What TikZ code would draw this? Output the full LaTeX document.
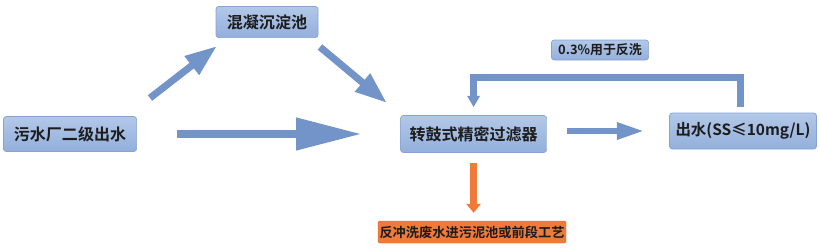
\documentclass[tikz,border=0pt]{standalone}
\usepackage{fontspec}
\newfontfamily\cjk{Noto Sans CJK SC}[BoldFont={Noto Sans CJK SC Bold}]
\usetikzlibrary{calc,arrows.meta}
\definecolor{boxtop}{HTML}{B3C8E9}
\definecolor{boxbot}{HTML}{93AFDB}
\definecolor{boxline}{HTML}{86A3D2}
\definecolor{flow}{HTML}{7294C9}
\definecolor{wash}{HTML}{F07A3A}
\definecolor{ink}{HTML}{1C1C1C}

\begin{document}
\begin{tikzpicture}[
  blkbox/.style={draw=boxline,line width=0.5pt,rounded corners=2pt,
    top color=boxtop,bottom color=boxbot,text=ink,
    font=\cjk\bfseries\fontsize{11.4}{13}\selectfont,inner sep=0pt},
  tagbox/.style={blkbox,font=\cjk\bfseries\fontsize{9.2}{11}\selectfont},
  flowarr/.style={draw=flow,line width=5pt},
  washbox/.style={fill=wash,draw=wash!85!black,line width=0.3pt,rounded corners=1pt,
    text=ink,font=\cjk\bfseries\fontsize{9.4}{11}\selectfont,inner sep=0pt}
]
\useasboundingbox (0,0) rectangle (20.5,6.25);

% ======================= the boxes =======================
\node[blkbox,minimum width=3.33cm,minimum height=0.875cm] (inflow) at (1.75,2.9) {污水厂二级出水};
\node[blkbox,minimum width=2.55cm,minimum height=0.78cm] (settle) at (6.675,5.7) {混凝沉淀池};
\node[blkbox,minimum width=3.65cm,minimum height=0.925cm] (drum) at (11.84,2.9) {转鼓式精密过滤器};
\node[blkbox,minimum width=3.675cm,minimum height=0.9cm,
  font=\cjk\bfseries\fontsize{11}{13}\selectfont] (outflow) at (18.575,2.975) {出水(SS≤10mg/L)};
\node[tagbox,minimum width=2.43cm,minimum height=0.5cm] (share) at (15.0,5.0) {0.3\%用于反洗};
\node[washbox,minimum width=4.7cm,minimum height=0.55cm] (sludge) at (11.8,0.45) {反冲洗废水进污泥池或前段工艺};

% ======================= the flows =======================
% via the settling tank
\coordinate (upfrom) at (3.75,3.8);
\coordinate (upto) at (5.425,5.1);
\coordinate (dnfrom) at (8.0,5.075);
\coordinate (dnto) at (9.675,3.675);
\draw[flowarr,-{Triangle[length=0.8cm,width=0.55cm]}] (upfrom) -- (upto);
\draw[flowarr,-{Triangle[length=0.8cm,width=0.55cm]}] (dnfrom) -- (dnto);
% straight to the filter
\draw[flowarr,-{Triangle[length=1.63cm,width=0.78cm]},shorten <=1.0cm,shorten >=0.975cm]
  (inflow.east) -- (drum.west);
% filter to outlet
\draw[flowarr,line width=4.3pt,-{Triangle[length=0.68cm,width=0.4cm]},shorten <=0.5cm,shorten >=0.625cm]
  (drum.east |- outflow) -- (outflow.west);
% back-wash share
\draw[flowarr,line width=4.5pt,-{Triangle[length=0.28cm,width=0.3cm]},shorten <=0.15cm,shorten >=0.2cm]
  ($(outflow.north)+(-0.06,0)$) -- ++(0,0.875) -| (drum.north);
% dirty wash water
\draw[draw=wash,line width=5pt,-{Triangle[length=0.22cm,width=0.35cm]},shorten <=0.25cm,shorten >=0.2cm]
  (drum.south) -- (sludge.north -| drum.south);

\end{tikzpicture}
\end{document}
